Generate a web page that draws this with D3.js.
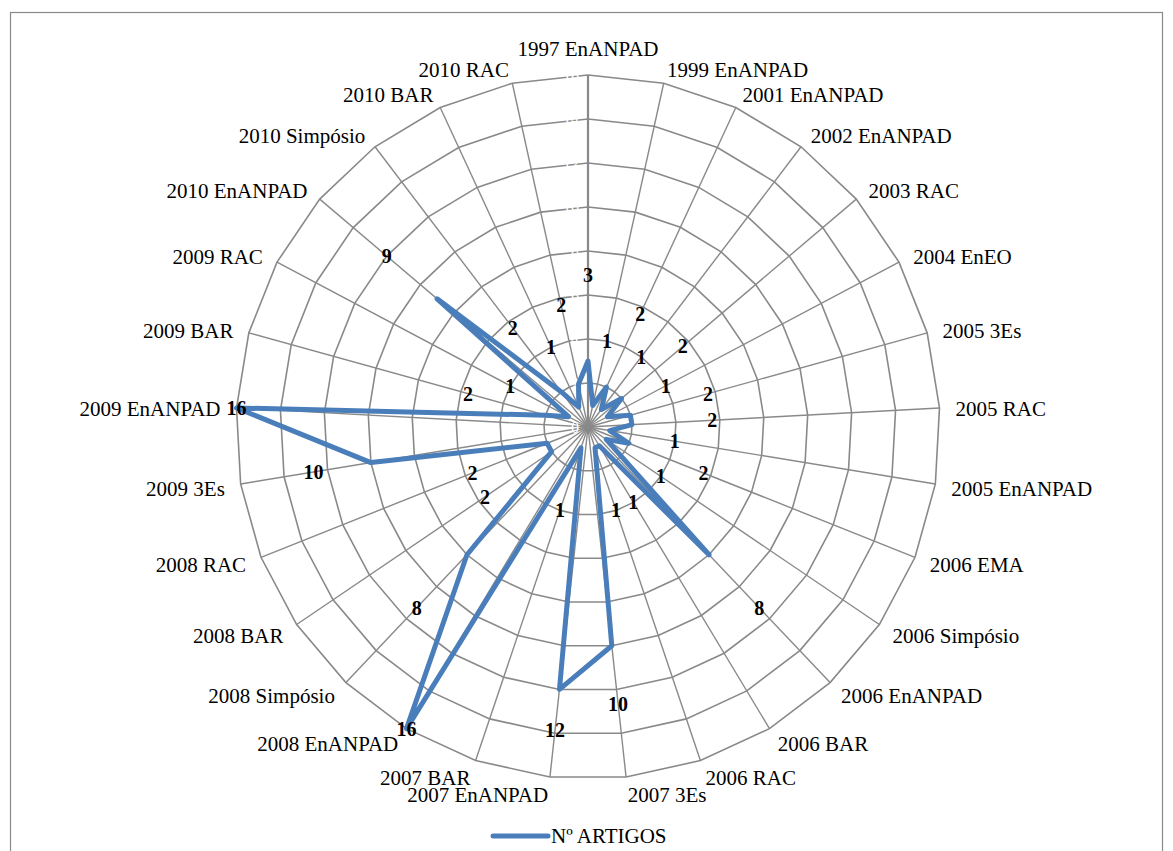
<!DOCTYPE html>
<html lang="en">
<head>
<meta charset="utf-8">
<title>Nº ARTIGOS</title>
<script type="text/javascript" src="https://cdn.jsdelivr.net/npm/d3@7/dist/d3.min.js"></script>
<style>
body{margin:0;background:#fff;}
</style>
</head>
<body>
<script type="text/javascript">
// categories, clockwise from the top
var categories = ["1997 EnANPAD","1999 EnANPAD","2001 EnANPAD","2002 EnANPAD","2003 RAC",
  "2004 EnEO","2005 3Es","2005 RAC","2005 EnANPAD","2006 EMA","2006 Simpósio",
  "2006 EnANPAD","2006 BAR","2006 RAC","2007 3Es","2007 EnANPAD","2007 BAR",
  "2008 EnANPAD","2008 Simpósio","2008 BAR","2008 RAC","2009 3Es","2009 EnANPAD",
  "2009 BAR","2009 RAC","2010 EnANPAD","2010 Simpósio","2010 BAR","2010 RAC"];
var artigos = [3,1,2,1,2,1,2,2,1,2,1,8,1,1,10,12,1,16,8,2,2,10,16,2,1,9,2,1,2];
var ticks = [0,2,4,6,8,10,12,14,16];
var seriesName = "Nº ARTIGOS";

var w = 1173, h = 851;
var cx = 588, cy = 427, R = 352;
var blue = "#4a7ebb", grid = "#898989";
var serif = "'Liberation Serif', serif";

var svg = d3.select("body").append("svg")
  .attr("width", w).attr("height", h);

// frame
svg.append("rect")
  .attr("x", 10.5).attr("y", 12.5)
  .attr("width", 1152).attr("height", 860)
  .attr("fill", "none").attr("stroke", grid).attr("stroke-width", 1.2);

var r = d3.scaleLinear().domain([0, 16]).range([0, R]);
var rLabel = d3.scaleSqrt().domain([0, 16]).range([0, R]); // data labels sit further out
var n = categories.length;
var angle = function(i){ return i * 2 * Math.PI / n; };
var px = function(i, rad){ return cx + rad * Math.sin(angle(i)); };
var py = function(i, rad){ return cy - rad * Math.cos(angle(i)); };

var g = svg.append("g");

// rings (straight segments between spokes)
g.selectAll(".ring")
  .data(ticks.slice(1))
  .enter().append("polygon")
  .attr("points", function(t){
    return d3.range(n).map(function(i){ return px(i, r(t)) + "," + py(i, r(t)); }).join(" ");
  })
  .attr("fill", "none").attr("stroke", grid).attr("stroke-width", 1.6);

// spokes
g.selectAll(".spoke")
  .data(categories)
  .enter().append("line")
  .attr("x1", cx).attr("y1", cy)
  .attr("x2", function(d, i){ return px(i, R); })
  .attr("y2", function(d, i){ return py(i, R); })
  .attr("stroke", grid)
  .attr("stroke-width", function(d, i){ return i == 0 ? 2.2 : 1.4; });

// value axis labels (white, like the original)
g.selectAll(".tick")
  .data(ticks)
  .enter().append("text")
  .attr("x", cx - 9)
  .attr("y", function(t){ return cy - r(t); })
  .attr("text-anchor", "end")
  .attr("dominant-baseline", "central")
  .style("font-family", serif)
  .attr("font-size", "16px")
  .attr("fill", "#fff")
  .text(function(t){ return t; });

// category labels
g.selectAll(".cat")
  .data(categories)
  .enter().append("text")
  .attr("x", function(d, i){ return px(i, R + 8) + Math.sin(angle(i)) * 8; })
  .attr("y", function(d, i){
    var s = Math.sin(angle(i)), c = Math.cos(angle(i));
    var k = Math.abs(s) < 0.05 ? 20 : 8;
    return py(i, R + 8) - c * k + 2;
  })
  .attr("text-anchor", function(d, i){
    var s = Math.sin(angle(i));
    return s > 0.05 ? "start" : (s < -0.05 ? "end" : "middle");
  })
  .attr("dominant-baseline", "central")
  .style("font-family", serif)
  .attr("font-size", "21px")
  .attr("fill", "#000")
  .text(function(d){ return d; });

// series line
var line = d3.lineRadial()
  .angle(function(d, i){ return angle(i); })
  .radius(function(d){ return r(d); })
  .curve(d3.curveLinearClosed);

g.append("path")
  .datum(artigos)
  .attr("transform", "translate(" + cx + "," + cy + ")")
  .attr("d", line)
  .attr("fill", "none")
  .attr("stroke", blue)
  .attr("stroke-width", 5)
  .attr("stroke-linejoin", "round");

// data labels
g.selectAll(".val")
  .data(artigos)
  .enter().append("text")
  .attr("x", function(d, i){ return px(i, rLabel(d)); })
  .attr("y", function(d, i){ return py(i, rLabel(d)); })
  .attr("text-anchor", "middle")
  .attr("dominant-baseline", "central")
  .style("font-family", serif)
  .attr("font-size", "20px")
  .attr("font-weight", "bold")
  .attr("fill", "#000")
  .text(function(d){ return d; });

// legend
var leg = svg.append("g").attr("transform", "translate(493,836)");
leg.append("line")
  .attr("x1", 0).attr("x2", 55)
  .attr("stroke", blue).attr("stroke-width", 5).attr("stroke-linecap", "round");
leg.append("text")
  .attr("x", 58).attr("dominant-baseline", "central")
  .style("font-family", serif)
  .attr("font-size", "21px").attr("fill", "#000")
  .text(seriesName);
</script>
</body>
</html>
